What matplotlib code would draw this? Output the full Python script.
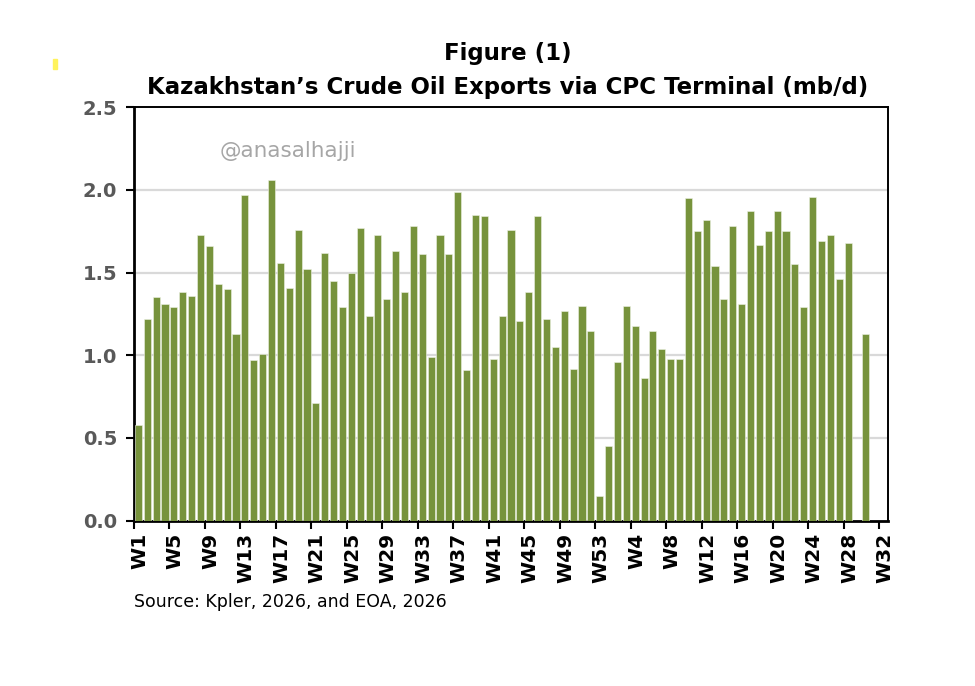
import numpy as np
import matplotlib
matplotlib.use("Agg")
import matplotlib.pyplot as plt
from matplotlib.ticker import FixedLocator, FormatStrFormatter

# weekly exports, mb/d
exports_2025 = [0.58, 1.22, 1.35, 1.31, 1.29, 1.38, 1.36, 1.73, 1.66, 1.43,
                1.40, 1.13, 1.97, 0.97, 1.01, 2.06, 1.56, 1.41, 1.76, 1.52,
                0.71, 1.62, 1.45, 1.29, 1.50, 1.77, 1.24, 1.73, 1.34, 1.63,
                1.38, 1.78, 1.61, 0.99, 1.73, 1.61, 1.99, 0.91, 1.85, 1.84,
                0.98, 1.24, 1.76, 1.21, 1.38, 1.84, 1.22, 1.05, 1.27, 0.92,
                1.30, 1.15, 0.15]
exports_2026 = [0.45, 0.96, 1.30, 1.18, 0.86, 1.15, 1.04, 0.98, 0.98, 1.95,
                1.75, 1.82, 1.54, 1.34, 1.78, 1.31, 1.87, 1.67, 1.75, 1.87,
                1.75, 1.55, 1.29, 1.96, 1.69, 1.73, 1.46, 1.68, np.nan, 1.13,
                np.nan, np.nan]

weeks = ["W%d" % i for i in range(1, len(exports_2025) + 1)] + \
        ["W%d" % i for i in range(1, len(exports_2026) + 1)]
values = np.array(exports_2025 + exports_2026)

TITLE = "Figure (1)\nKazakhstan\u2019s Crude Oil Exports via CPC Terminal (mb/d)"
SOURCE = "Source: Kpler, 2026, and EOA, 2026"
BAR_COLOR = "#77933C"

fig = plt.figure(figsize=(9.75, 6.86), dpi=100)
ax = fig.add_axes([0.1374, 0.241, 0.7734, 0.6026])

x = np.arange(len(values))
has_data = ~np.isnan(values)
ax.bar(x[has_data], values[has_data], width=0.8, color=BAR_COLOR,
       edgecolor="#eef2e4", linewidth=0.4, zorder=3)

ax.set_xlim(-0.5, len(values) - 0.5)
ax.set_ylim(0, 2.5)
ax.set_yticks(np.arange(0, 2.51, 0.5))
ax.yaxis.set_major_formatter(FormatStrFormatter("%.1f"))
for y in [0.5, 1.0, 1.5, 2.0]:
    ax.axhline(y, color="#d9d9d9", linewidth=1.6, zorder=1)

# every 4th week: tick mark on the category boundary, label on the category
n25 = len(exports_2025)
label_idx = [i for i in range(n25) if i % 4 == 0] + \
            [i for i in range(n25, len(weeks)) if int(weeks[i][1:]) % 4 == 0]
ax.xaxis.set_major_locator(FixedLocator([i - 0.5 for i in label_idx]))
ax.xaxis.set_major_formatter(plt.NullFormatter())
ax.xaxis.set_minor_locator(FixedLocator([i + 0.15 for i in label_idx]))
ax.set_xticklabels([weeks[i] for i in label_idx], minor=True, rotation=90,
                   fontsize=14.5, fontweight="bold", color="black")
ax.tick_params(axis="x", which="major", length=6, width=1.5, direction="out")
ax.tick_params(axis="x", which="minor", length=0, pad=9)
ax.tick_params(axis="y", length=6, width=1.5, direction="out", pad=6,
               labelsize=14, labelcolor="#595959")
for lab in ax.get_yticklabels():
    lab.set_fontweight("bold")

for side in ["left", "bottom", "top", "right"]:
    ax.spines[side].set_color("black")
    ax.spines[side].set_linewidth(1.4)
ax.spines["left"].set_linewidth(2)
ax.spines["bottom"].set_linewidth(2)

fig.text(0.521, 0.897, TITLE, ha="center", va="center", fontsize=16.5,
         fontweight="bold", linespacing=1.6)
fig.text(0.137, 0.123, SOURCE, ha="left", va="center", fontsize=12.5)
ax.text(0.114, 0.895, "@anasalhajji", transform=ax.transAxes, fontsize=15.5,
        color="#a6a6a6", ha="left", va="center")

# small yellow mark at top left of the original picture
fig.patches.append(plt.Rectangle((0.0545, 0.8995), 0.004, 0.015, transform=fig.transFigure,
                                 color="#fff35c", figure=fig))

fig.savefig("out.png", dpi=100)
